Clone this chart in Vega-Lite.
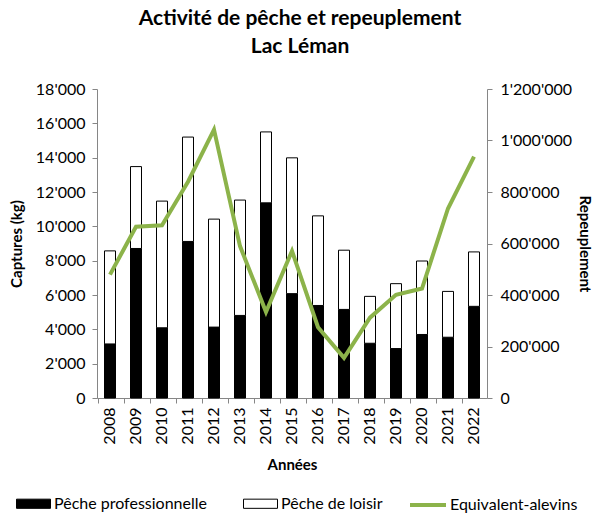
{
  "$schema": "https://vega.github.io/schema/vega-lite/v6.json",
  "autosize": {"type": "none"},
  "width": 390,
  "height": 309,
  "padding": {"left": 97, "top": 89, "right": 109, "bottom": 116},
  "background": "white",
  "title": {
    "text": ["Activité de pêche et repeuplement", "Lac Léman"],
    "font": "Lato",
    "fontSize": 21,
    "fontWeight": "bold",
    "lineHeight": 28,
    "anchor": "middle",
    "dx": 8,
    "offset": 24,
    "color": "#000000"
  },
  "datasets": {
    "peche": [
      {"annee": "2008", "serie": "Pêche professionnelle", "captures": 3150},
      {"annee": "2009", "serie": "Pêche professionnelle", "captures": 8710},
      {"annee": "2010", "serie": "Pêche professionnelle", "captures": 4090},
      {"annee": "2011", "serie": "Pêche professionnelle", "captures": 9120},
      {"annee": "2012", "serie": "Pêche professionnelle", "captures": 4130},
      {"annee": "2013", "serie": "Pêche professionnelle", "captures": 4810},
      {"annee": "2014", "serie": "Pêche professionnelle", "captures": 11370},
      {"annee": "2015", "serie": "Pêche professionnelle", "captures": 6080},
      {"annee": "2016", "serie": "Pêche professionnelle", "captures": 5390},
      {"annee": "2017", "serie": "Pêche professionnelle", "captures": 5160},
      {"annee": "2018", "serie": "Pêche professionnelle", "captures": 3190},
      {"annee": "2019", "serie": "Pêche professionnelle", "captures": 2880},
      {"annee": "2020", "serie": "Pêche professionnelle", "captures": 3700},
      {"annee": "2021", "serie": "Pêche professionnelle", "captures": 3540},
      {"annee": "2022", "serie": "Pêche professionnelle", "captures": 5340},
      {"annee": "2008", "serie": "Pêche de loisir", "captures": 5420},
      {"annee": "2009", "serie": "Pêche de loisir", "captures": 4770},
      {"annee": "2010", "serie": "Pêche de loisir", "captures": 7380},
      {"annee": "2011", "serie": "Pêche de loisir", "captures": 6080},
      {"annee": "2012", "serie": "Pêche de loisir", "captures": 6290},
      {"annee": "2013", "serie": "Pêche de loisir", "captures": 6720},
      {"annee": "2014", "serie": "Pêche de loisir", "captures": 4130},
      {"annee": "2015", "serie": "Pêche de loisir", "captures": 7910},
      {"annee": "2016", "serie": "Pêche de loisir", "captures": 5220},
      {"annee": "2017", "serie": "Pêche de loisir", "captures": 3450},
      {"annee": "2018", "serie": "Pêche de loisir", "captures": 2730},
      {"annee": "2019", "serie": "Pêche de loisir", "captures": 3780},
      {"annee": "2020", "serie": "Pêche de loisir", "captures": 4280},
      {"annee": "2021", "serie": "Pêche de loisir", "captures": 2670},
      {"annee": "2022", "serie": "Pêche de loisir", "captures": 3170}
    ],
    "alevins": [
      {"annee": "2008", "serie": "Equivalent-alevins", "repeuplement": 479000},
      {"annee": "2009", "serie": "Equivalent-alevins", "repeuplement": 665000},
      {"annee": "2010", "serie": "Equivalent-alevins", "repeuplement": 671000},
      {"annee": "2011", "serie": "Equivalent-alevins", "repeuplement": 840000},
      {"annee": "2012", "serie": "Equivalent-alevins", "repeuplement": 1042000},
      {"annee": "2013", "serie": "Equivalent-alevins", "repeuplement": 590000},
      {"annee": "2014", "serie": "Equivalent-alevins", "repeuplement": 334000},
      {"annee": "2015", "serie": "Equivalent-alevins", "repeuplement": 571000},
      {"annee": "2016", "serie": "Equivalent-alevins", "repeuplement": 275000},
      {"annee": "2017", "serie": "Equivalent-alevins", "repeuplement": 156000},
      {"annee": "2018", "serie": "Equivalent-alevins", "repeuplement": 312000},
      {"annee": "2019", "serie": "Equivalent-alevins", "repeuplement": 401000},
      {"annee": "2020", "serie": "Equivalent-alevins", "repeuplement": 425000},
      {"annee": "2021", "serie": "Equivalent-alevins", "repeuplement": 736000},
      {"annee": "2022", "serie": "Equivalent-alevins", "repeuplement": 937000}
    ]
  },
  "encoding": {
    "x": {
      "field": "annee",
      "type": "ordinal",
      "title": "Années",
      "axis": {
        "labelAngle": -90,
        "bandPosition": 0,
        "labelPadding": 4,
        "titlePadding": 13
      }
    }
  },
  "layer": [
    {
      "data": {"name": "peche"},
      "mark": {"type": "bar", "size": 11, "stroke": "#000000", "strokeWidth": 1},
      "encoding": {
        "y": {
          "field": "captures",
          "type": "quantitative",
          "stack": "zero",
          "title": "Captures (kg)",
          "scale": {"domain": [0, 18000], "nice": false},
          "axis": {"values": [0, 2000, 4000, 6000, 8000, 10000, 12000, 14000, 16000, 18000], "format": ",d", "labelPadding": 7, "titlePadding": 11}
        },
        "fill": {
          "field": "serie",
          "type": "nominal",
          "scale": {
            "domain": ["Pêche professionnelle", "Pêche de loisir"],
            "range": ["#000000", "#ffffff"]
          },
          "legend": {
            "orient": "none",
            "legendX": -81,
            "legendY": 397,
            "direction": "horizontal",
            "columns": 2,
            "columnPadding": 34,
            "padding": 0,
            "title": null,
            "labelFont": "Lato",
            "labelFontSize": 16,
            "labelColor": "#000000",
            "labelOffset": 3,
            "labelLimit": 300,
            "symbolType": "M-1,-0.27H1V0.27H-1Z",
            "symbolSize": 1156,
            "symbolStrokeColor": "#000000",
            "symbolStrokeWidth": 1,
            "symbolOpacity": 1
          }
        },
        "order": {"field": "serie", "sort": "descending"}
      }
    },
    {
      "data": {"name": "alevins"},
      "mark": {"type": "line", "strokeWidth": 4},
      "encoding": {
        "y": {
          "field": "repeuplement",
          "type": "quantitative",
          "title": "Repeuplement",
          "scale": {"domain": [0, 1200000], "nice": false},
          "axis": {"orient": "right", "values": [0, 200000, 400000, 600000, 800000, 1000000, 1200000], "format": ",d", "labelPadding": 8, "titlePadding": 5}
        },
        "stroke": {
          "field": "serie",
          "type": "nominal",
          "scale": {"domain": ["Equivalent-alevins"], "range": ["#8CB34A"]},
          "legend": {
            "orient": "none",
            "legendX": 311,
            "legendY": 396,
            "padding": 0,
            "title": null,
            "labelFont": "Lato",
            "labelFontSize": 16,
            "labelColor": "#000000",
            "labelOffset": 2,
            "labelLimit": 300,
            "symbolType": "stroke",
            "symbolSize": 1296,
            "symbolStrokeWidth": 4
          }
        }
      }
    }
  ],
  "resolve": {"scale": {"y": "independent"}},
  "config": {
    "locale": {"number": {"decimal": ".", "thousands": "'", "grouping": [3], "currency": ["", ""]}},
    "view": {"stroke": null},
    "font": "Lato",
    "axis": {
      "grid": false,
      "domainColor": "#868686",
      "tickColor": "#868686",
      "tickSize": 5,
      "labelFont": "Lato",
      "labelFontSize": 16,
      "labelColor": "#000000",
      "titleFont": "Lato",
      "titleFontSize": 15,
      "titleFontWeight": "bold",
      "titleColor": "#000000"
    }
  }
}
